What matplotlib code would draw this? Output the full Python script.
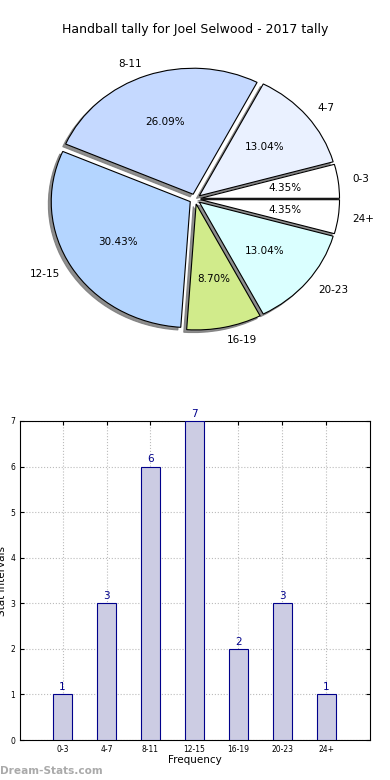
import matplotlib
matplotlib.use("Agg")
import matplotlib.pyplot as plt
import numpy as np

categories = ["0-3", "4-7", "8-11", "12-15", "16-19", "20-23", "24+"]
counts = [1, 3, 6, 7, 2, 3, 1]
pie_colors = ["#FFFFFF", "#EAF1FF", "#C5D9FF", "#B4D5FF", "#D1EB8B", "#DAFFFF", "#FFFFFF"]
title = "Handball tally for Joel Selwood - 2017 tally"

fig = plt.figure(figsize=(3.9, 7.8), dpi=100)

# Pie chart (slightly stretched horizontally, as in the reference)
axp = fig.add_axes([25/390, 1-369/780, 340/390, 340/780])
axp.pie(counts, labels=categories, colors=pie_colors, autopct="%.2f%%",
        startangle=0, counterclock=True, explode=[0.04]*len(counts),
        shadow=dict(ox=-0.015, oy=-0.015, facecolor="#7A7A7A", edgecolor="#7A7A7A", alpha=0.85),
        radius=1.0, labeldistance=1.1, pctdistance=0.61,
        wedgeprops=dict(edgecolor="black", linewidth=0.8),
        textprops=dict(fontsize=7.5))
axp.set_aspect("auto")
axp.set_xlim(-340/2/139, 340/2/139)
axp.set_ylim(-170/126, 170/126)
fig.text(0.5, 1-30/780, title, ha="center", va="center", fontsize=9)

# Bar chart
axb = fig.add_axes([20/390, 40/780, 350/390, 319/780])
x = np.arange(len(categories))
axb.bar(x, counts, width=0.43, color="#CCCCE3", edgecolor="#00008B", linewidth=0.8, zorder=3)
for xi, c in zip(x, counts):
    axb.text(xi, c + 0.05, str(c), ha="center", va="bottom", color="#00008B", fontsize=7.5, zorder=4)
axb.set_xlim(-0.97, 7.0)
axb.set_ylim(0, 7)
axb.set_xticks(x)
axb.set_xticklabels(categories, fontsize=5.5)
axb.set_yticks(range(0, 8))
axb.tick_params(axis="y", labelsize=5.5)
axb.tick_params(direction="in", top=True, right=True, length=3)
axb.grid(True, linestyle=":", color="#BBBBBB", linewidth=0.8, zorder=0)
axb.set_xlabel("Frequency", fontsize=7.5, labelpad=1)
axb.set_ylabel("Stat Intervals", fontsize=7.5, labelpad=2)
fig.text(0.0, 1-771/780, "Dream-Stats.com", color="#AAAAAA", fontsize=7.6, ha="left", va="center", fontweight="bold")

fig.savefig("out.png", dpi=100)
